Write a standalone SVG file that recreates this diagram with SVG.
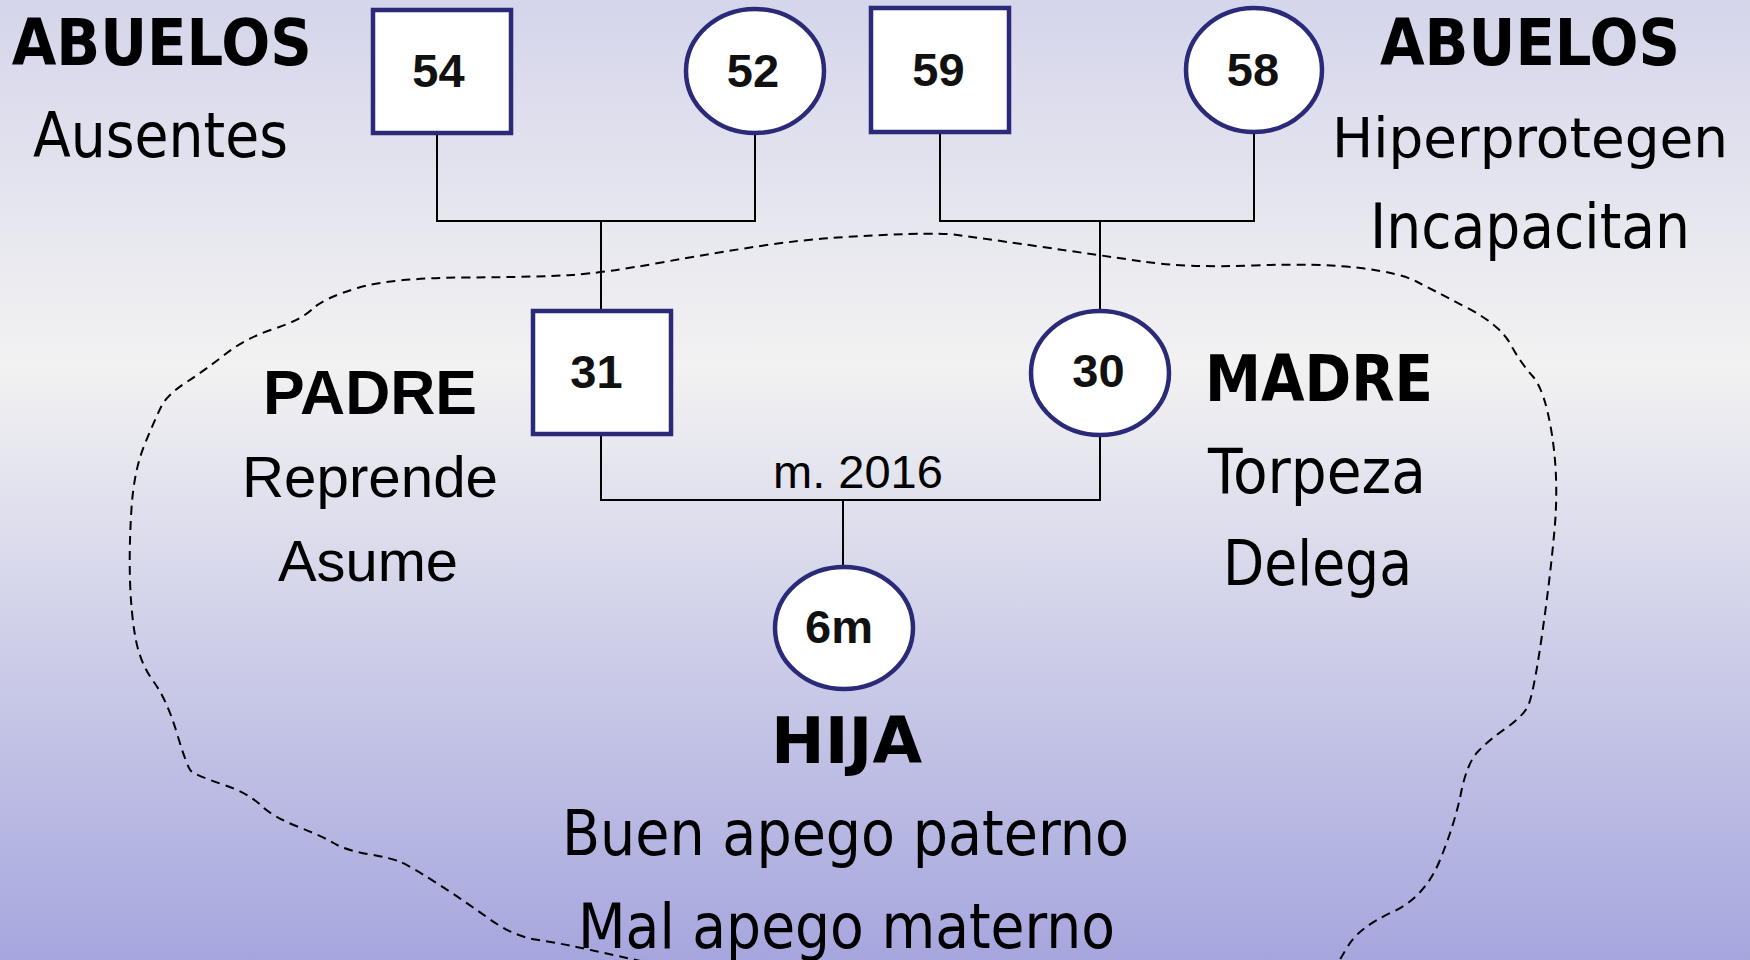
<svg xmlns="http://www.w3.org/2000/svg" width="1750" height="960" viewBox="0 0 1750 960">
<defs>
<linearGradient id="bg" x1="0" y1="0" x2="0" y2="1">
<stop offset="0" stop-color="#d5d5eb"/>
<stop offset="0.38" stop-color="#f2f2f2"/>
<stop offset="1" stop-color="#a6a6de"/>
</linearGradient>
<style>
.node{fill:#ffffff;stroke:#2a2a78;stroke-width:4.5}
.num{font-family:"Liberation Sans",Arial,sans-serif;font-weight:bold;font-size:47px;fill:#111;text-anchor:middle}
.hb{font-family:"DejaVu Sans",Verdana,sans-serif;font-weight:bold;font-size:64px;fill:#000;text-anchor:middle}
.hr{font-family:"DejaVu Sans",Verdana,sans-serif;font-size:63px;fill:#000;text-anchor:middle}
.ab{font-family:"Liberation Sans",Arial,sans-serif;font-weight:bold;font-size:63px;fill:#000;text-anchor:middle}
.ar{font-family:"Liberation Sans",Arial,sans-serif;font-size:58px;fill:#000;text-anchor:middle}
.lbl{font-family:"Liberation Sans",Arial,sans-serif;font-size:47px;fill:#000;text-anchor:middle}
.conn{fill:none;stroke:#000;stroke-width:2}
.bound{fill:none;stroke:#000;stroke-width:2;stroke-dasharray:9 6}
</style>
</defs>
<rect x="0" y="0" width="1750" height="960" fill="url(#bg)"/>

<path class="bound" d="M672,968 L636,960 Q600,952 579,947.5 Q558,943 535.5,939.5 Q513,936 488,918 Q463,900 436.5,883 Q410,866 400.5,862 Q391,858 368,854 Q345,850 334.5,843.5 Q324,837 298.5,827 Q273,817 260.5,805 Q248,793 221.5,784 Q195,775 191,771 Q187,767 177,733.5 Q167,700 153.5,681.5 Q140,663 135.5,638 Q131,613 130,580 Q129,547 131.5,508.5 Q134,470 145,443.5 Q156,417 161.5,406 Q167,395 186,382.5 Q205,370 225.5,354 Q246,338 273.5,329 Q301,320 312.5,309 Q324,298 357.5,288 Q391,278 465.5,277.5 Q540,277 571.5,275 Q603,273 658.5,263 Q714,253 757,246.5 Q800,240 837.5,237.5 Q875,235 908.5,234 Q942,233 957.5,235 Q973,237 1035.5,246 Q1098,255 1142.5,261.5 Q1187,268 1254,265.5 Q1321,263 1360.5,268 Q1400,273 1416.5,281.5 Q1433,290 1466.5,307.5 Q1500,325 1510,343.5 Q1520,362 1532.5,376 Q1545,390 1552,435 Q1559,480 1554.5,530 Q1550,580 1541.5,638.5 Q1533,697 1527.5,707 Q1522,717 1505.5,728.5 Q1489,740 1478,751.5 Q1467,763 1461,793 Q1455,823 1440,860 Q1425,897 1392.5,912 Q1360,927 1349,944.5 Q1338,962 1332,975"/>

<g id="connectors">
<path class="conn" d="M437,133 V221 H755 V133"/>
<path class="conn" d="M601,221 V311"/>
<path class="conn" d="M940,132 V221 H1254 V132"/>
<path class="conn" d="M1100,221 V311"/>
<path class="conn" d="M601,434 V500 H1100 V435"/>
<path class="conn" d="M843,500 V568"/>
</g>

<g id="n54"><rect class="node" x="373" y="10" width="138" height="123"/><text class="num" x="438.5" y="87">54</text></g>
<g id="n52"><ellipse class="node" cx="755" cy="71" rx="69" ry="62"/><text class="num" x="753" y="87">52</text></g>
<g id="n59"><rect class="node" x="871" y="8" width="138" height="124"/><text class="num" x="938.5" y="86">59</text></g>
<g id="n58"><ellipse class="node" cx="1254" cy="70" rx="68" ry="62"/><text class="num" x="1253" y="86">58</text></g>
<g id="n31"><rect class="node" x="533" y="311" width="138" height="123"/><text class="num" x="596.5" y="388">31</text></g>
<g id="n30"><ellipse class="node" cx="1100" cy="373" rx="69" ry="62"/><text class="num" x="1098.5" y="387">30</text></g>
<g id="n6m"><ellipse class="node" cx="844" cy="628" rx="69" ry="61"/><text class="num" x="839" y="643">6m</text></g>

<g id="label-marriage"><text class="lbl" x="858" y="488">m. 2016</text></g>

<g id="abuelos-left">
<text class="hb" x="161.7" y="65" textLength="300" lengthAdjust="spacingAndGlyphs">ABUELOS</text>
<text class="hr" x="160.5" y="157" textLength="255" lengthAdjust="spacingAndGlyphs">Ausentes</text>
</g>
<g id="abuelos-right">
<text class="hb" x="1530" y="65" textLength="300" lengthAdjust="spacingAndGlyphs">ABUELOS</text>
<text class="hr" x="1530" y="157" style="font-size:56px" textLength="396" lengthAdjust="spacingAndGlyphs">Hiperprotegen</text>
<text class="hr" x="1530" y="248" textLength="320" lengthAdjust="spacingAndGlyphs">Incapacitan</text>
</g>
<g id="padre">
<text class="ab" x="370" y="414" textLength="214" lengthAdjust="spacingAndGlyphs">PADRE</text>
<text class="ar" x="370" y="497" textLength="256" lengthAdjust="spacingAndGlyphs">Reprende</text>
<text class="ar" x="368" y="581" textLength="180" lengthAdjust="spacingAndGlyphs">Asume</text>
</g>
<g id="madre">
<text class="hb" x="1319" y="401" textLength="228" lengthAdjust="spacingAndGlyphs">MADRE</text>
<text class="hr" x="1317" y="493" textLength="218" lengthAdjust="spacingAndGlyphs">Torpeza</text>
<text class="hr" x="1317.5" y="585" textLength="189" lengthAdjust="spacingAndGlyphs">Delega</text>
</g>
<g id="hija">
<text class="hb" x="846.5" y="763" textLength="151" lengthAdjust="spacingAndGlyphs">HIJA</text>
<text class="hr" x="845.5" y="855" textLength="567" lengthAdjust="spacingAndGlyphs">Buen apego paterno</text>
<text class="hr" x="846.5" y="948" textLength="537" lengthAdjust="spacingAndGlyphs">Mal apego materno</text>
</g>
</svg>
